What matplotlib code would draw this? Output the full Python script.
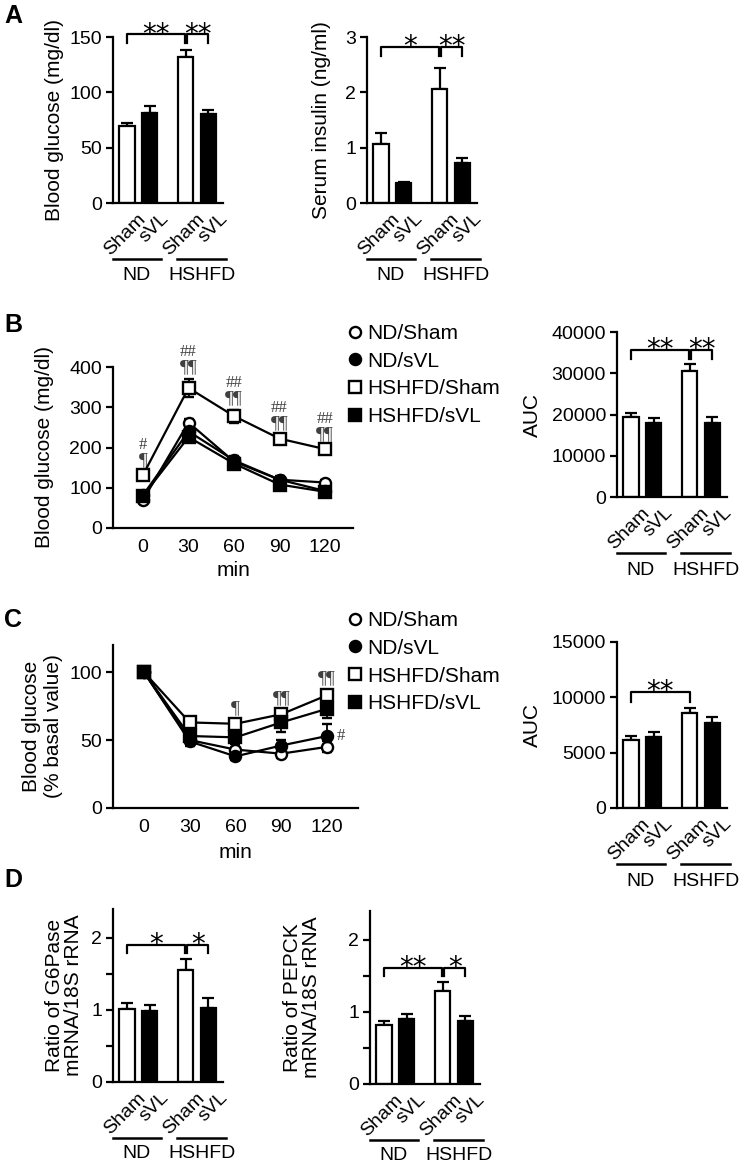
import numpy as np
import matplotlib
matplotlib.use('Agg')
import matplotlib.pyplot as plt
from matplotlib.lines import Line2D

plt.rcParams['font.family'] = ['Liberation Sans', 'DejaVu Sans']

W, H = 741, 1165

# Dane
treatments = ['Sham', 'sVL', 'Sham', 'sVL']
groups = ['ND', 'HSHFD']
series_labels = ['ND/Sham', 'ND/sVL', 'HSHFD/Sham', 'HSHFD/sVL']

glucose = [70, 81, 132, 80]
glucose_err = [2, 7, 6, 4]
insulin = [1.07, 0.36, 2.06, 0.72]
insulin_err = [0.19, 0.02, 0.38, 0.09]

minutes = [0, 30, 60, 90, 120]

gtt_nd_sham = [70, 262, 165, 120, 113]
gtt_nd_svl = [82, 240, 168, 120, 92]
gtt_hs_sham = [132, 348, 278, 222, 196]
gtt_hs_svl = [80, 226, 160, 108, 90]
gtt_nd_sham_err = [5, 10, 10, 6, 6]
gtt_nd_svl_err = [6, 12, 12, 8, 6]
gtt_hs_sham_err = [8, 22, 16, 10, 8]
gtt_hs_svl_err = [5, 10, 12, 6, 6]
gtt_auc = [19400, 17900, 30500, 18000]
gtt_auc_err = [1000, 1200, 1700, 1400]

itt_nd_sham = [100, 50, 43, 40, 45]
itt_nd_svl = [100, 49, 38, 46, 53]
itt_hs_sham = [100, 63, 62, 69, 83]
itt_hs_svl = [100, 53, 52, 63, 73]
itt_nd_sham_err = [2, 3, 4, 3, 4]
itt_nd_svl_err = [2, 3, 3, 4, 9]
itt_hs_sham_err = [2, 4, 3, 3, 4]
itt_hs_svl_err = [2, 4, 4, 7, 7]
itt_auc = [6150, 6450, 8600, 7700]
itt_auc_err = [350, 400, 400, 500]

g6pase = [1.01, 0.99, 1.56, 1.02]
g6pase_err = [0.08, 0.08, 0.15, 0.14]
pepck = [0.82, 0.90, 1.29, 0.875]
pepck_err = [0.055, 0.07, 0.12, 0.065]

# znaczniki nad HSHFD/Sham
gtt_pil = ['\u00b6', '\u00b6\u00b6', '\u00b6\u00b6', '\u00b6\u00b6', '\u00b6\u00b6']
gtt_hash = ['#', '##', '##', '##', '##']
itt_pil = ['', '', '\u00b6', '\u00b6\u00b6', '\u00b6\u00b6']

bar_x = [0, 1, 2.6, 3.6]
bar_colors = ['white', 'black', 'white', 'black']
markers = [('o', 'white'), ('o', 'black'), ('s', 'white'), ('s', 'black')]
ANN = '#404040'
TICK = 14
LAB = 15

fig = plt.figure(figsize=(W / 100, H / 100), dpi=100)


def px_axes(left, top, right, bottom):
    ax = fig.add_axes([left / W, 1 - bottom / H, (right - left) / W, (bottom - top) / H])
    ax._px = (left, top, right, bottom)
    for s in ['top', 'right']:
        ax.spines[s].set_visible(False)
    for s in ['left', 'bottom']:
        ax.spines[s].set_linewidth(1.6)
    ax.tick_params(axis='y', direction='out', length=5, width=1.6, labelsize=TICK, pad=3)
    return ax


def ylabel_px(ax, text, right_px, linespacing=1.2):
    left, top, right, bottom = ax._px
    ax.set_ylabel(text, fontsize=LAB, linespacing=linespacing)
    ax.yaxis.set_label_coords((right_px - left) / (right - left), 0.5)


def bracket(ax, x0, x1, y, leg, text):
    ax.plot([x0, x0, x1, x1], [leg, y, y, leg], color='black', lw=1.6, clip_on=False)
    ax.annotate(text, xy=((x0 + x1) / 2, y), xytext=(0, -6), textcoords='offset points',
                ha='center', va='baseline', fontsize=20, family='DejaVu Sans',
                annotation_clip=False)


def bar_panel(ax, vals, errs, ylim, yticks, yticklabels=None, grp_text=73):
    ax.bar(bar_x, vals, width=0.67, color=bar_colors, edgecolor='black', linewidth=1.6, zorder=2)
    ax.errorbar(bar_x, vals, yerr=[np.zeros(len(vals)), errs], fmt='none', ecolor='black',
                elinewidth=1.6, capsize=4.5, capthick=1.6, zorder=1)
    ax.set_xlim(-0.62, 4.25)
    ax.set_ylim(*ylim)
    ax.set_yticks(yticks)
    if yticklabels is not None:
        ax.set_yticklabels(yticklabels)
    ax.set_xticks([])
    # etykiety pod słupkami, obrócone o 45 stopni
    for x, name in zip(bar_x, treatments):
        ax.annotate(name, xy=(x, 0), xycoords=('data', 'axes fraction'), xytext=(7.6, -5.2),
                    textcoords='offset points', rotation=45, ha='right', va='top',
                    rotation_mode='anchor', fontsize=14, annotation_clip=False)
    left, top, right, bottom = ax._px
    h = bottom - top
    for (x0, x1), name in zip([(-0.64, 1.52), (2.22, 4.4)], groups):
        ax.plot([x0, x1], [-56 / h, -56 / h], transform=ax.get_xaxis_transform(),
                color='black', lw=1.8, clip_on=False)
        ax.text((x0 + x1) / 2, -grp_text / h, name, transform=ax.get_xaxis_transform(),
                ha='center', va='center', fontsize=14)


def line_panel(ax, vals_list, errs_list, xlim, ylim, yticks):
    for vals, errs, (m, fc) in zip(vals_list, errs_list, markers):
        ax.errorbar(minutes, vals, yerr=errs, color='black', lw=1.6, marker=m, ms=8,
                    mfc=fc, mec='black', mew=1.7, capsize=3.5, elinewidth=1.3, capthick=1.3,
                    clip_on=False, zorder=3)
    ax.set_xlim(*xlim)
    ax.set_ylim(*ylim)
    ax.set_yticks(yticks)
    ax.set_xticks(minutes)
    ax.tick_params(axis='x', length=0, pad=8, labelsize=TICK)
    ax.set_xlabel('min', fontsize=LAB)


def add_legend(ax, top_px):
    handles = [Line2D([], [], ls='none', marker=m, ms=8, mfc=fc, mec='black', mew=1.7)
               for m, fc in markers]
    ax.legend(handles, series_labels, loc='upper left', bbox_to_anchor=(347.7 / W, 1 - top_px / H),
              bbox_transform=fig.transFigure, frameon=False, fontsize=15, handlelength=0.7,
              handletextpad=0.23, labelspacing=0.42, borderpad=0, borderaxespad=0)


def mark(ax, text, xy, dy, size, dx=0):
    ax.annotate(text, xy=xy, xytext=(dx, dy), textcoords='offset points', ha='center',
                va='center', fontsize=size, color=ANN, family='Liberation Serif',
                annotation_clip=False)


# A
axA1 = px_axes(113, 37, 223, 203)
bar_panel(axA1, glucose, glucose_err, (0, 150), [0, 50, 100, 150], grp_text=72)
ylabel_px(axA1, 'Blood glucose (mg/dl)', 64)
bracket(axA1, 0, 2.55, 152.5, 145, '**')
bracket(axA1, 2.67, 3.6, 152.5, 145, '**')

axA2 = px_axes(367, 37, 477, 203)
bar_panel(axA2, insulin, insulin_err, (0, 3), [0, 1, 2, 3], grp_text=72)
ylabel_px(axA2, 'Serum insulin (ng/ml)', 331)
bracket(axA2, 0, 2.55, 2.82, 2.66, '*')
bracket(axA2, 2.67, 3.6, 2.82, 2.66, '**')

# B
axB1 = px_axes(113, 367, 353, 528)
line_panel(axB1, [gtt_nd_sham, gtt_nd_svl, gtt_hs_sham, gtt_hs_svl],
           [gtt_nd_sham_err, gtt_nd_svl_err, gtt_hs_sham_err, gtt_hs_svl_err],
           (-19.8, 138.4), (0, 400), [0, 100, 200, 300, 400])
ylabel_px(axB1, 'Blood glucose (mg/dl)', 54)
axB1.xaxis.set_label_coords(0.5, -33 / 161)
for t, v, e, p, s in zip(minutes, gtt_hs_sham, gtt_hs_sham_err, gtt_pil, gtt_hash):
    mark(axB1, p, (t, v + e), 8, 14)
    mark(axB1, s, (t, v + e), 19.5, 12)
add_legend(axB1, 324)

axB2 = px_axes(617, 332, 727, 497)
bar_panel(axB2, gtt_auc, gtt_auc_err, (0, 40000), [0, 10000, 20000, 30000, 40000])
ylabel_px(axB2, 'AUC', 542)
bracket(axB2, 0, 2.55, 35600, 33400, '**')
bracket(axB2, 2.67, 3.6, 35600, 33400, '**')

# C
axC1 = px_axes(113, 645, 358, 808)
line_panel(axC1, [itt_nd_sham, itt_nd_svl, itt_hs_sham, itt_hs_svl],
           [itt_nd_sham_err, itt_nd_svl_err, itt_hs_sham_err, itt_hs_svl_err],
           (-20.3, 140.3), (0, 120), [0, 50, 100])
ylabel_px(axC1, 'Blood glucose\n(% basal value)', 63)
axC1.xaxis.set_label_coords(0.5, -35 / 163)
for t, v, e, p in zip(minutes, itt_hs_sham, itt_hs_sham_err, itt_pil):
    if p:
        mark(axC1, p, (t, v + e), 8, 14)
mark(axC1, '#', (minutes[-1], itt_nd_svl[-1]), 0, 12, dx=10)
add_legend(axC1, 611)

axC2 = px_axes(617, 642, 727, 808)
bar_panel(axC2, itt_auc, itt_auc_err, (0, 15000), [0, 5000, 10000, 15000])
ylabel_px(axC2, 'AUC', 542)
bracket(axC2, 0, 2.6, 10500, 9600, '**')

# D
axD1 = px_axes(113, 909, 223, 1082)
bar_panel(axD1, g6pase, g6pase_err, (0, 2.4), [0, 0.5, 1, 1.5, 2], ['0', '', '1', '', '2'], grp_text=72)
ylabel_px(axD1, 'Ratio of G6Pase\nmRNA/18S rRNA', 83, linespacing=1.0)
bracket(axD1, 0, 2.55, 1.9, 1.79, '*')
bracket(axD1, 2.67, 3.6, 1.9, 1.79, '*')

axD2 = px_axes(370, 911, 480, 1084)
bar_panel(axD2, pepck, pepck_err, (0, 2.4), [0, 0.5, 1, 1.5, 2], ['0', '', '1', '', '2'], grp_text=71)
ylabel_px(axD2, 'Ratio of PEPCK\nmRNA/18S rRNA', 321, linespacing=1.0)
bracket(axD2, 0, 2.55, 1.61, 1.5, '**')
bracket(axD2, 2.67, 3.6, 1.61, 1.5, '*')

# Litery paneli
for letter, y in zip('ABCD', [16, 325, 620, 880]):
    fig.text(13 / W, 1 - y / H, letter, ha='center', va='center', fontsize=18, weight='bold')

fig.savefig('out.png', dpi=100)
